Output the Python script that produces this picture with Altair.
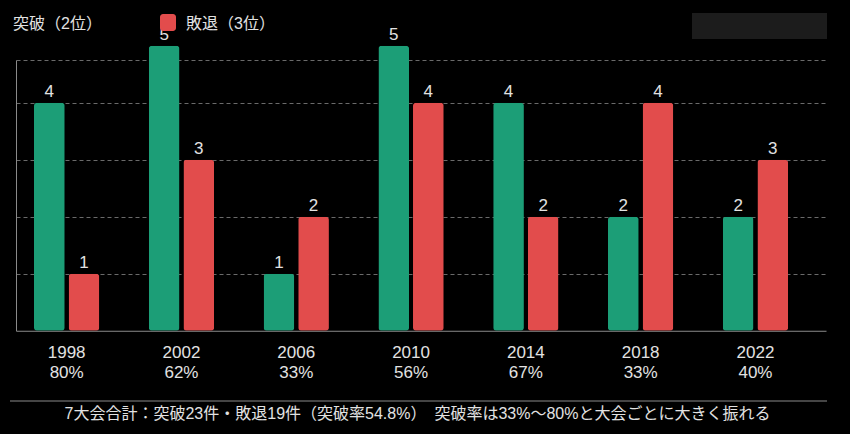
import altair as alt
import pandas as pd

# ---- data ----
years = ["1998", "2002", "2006", "2010", "2014", "2018", "2022"]
breakthrough = [4, 5, 1, 5, 4, 2, 2]
eliminated = [1, 3, 2, 4, 2, 4, 3]
rates = ["80%", "62%", "33%", "56%", "67%", "33%", "40%"]
series = ["突破（2位）", "敗退（3位）"]
colors = ["#1c9e77", "#e24c4c"]
footer = "7大会合計：突破23件・敗退19件（突破率54.8%）　突破率は33%〜80%と大会ごとに大きく振れる"

FONT = "Liberation Sans, Noto Sans CJK JP, sans-serif"
TXT = "#e2e2e2"

# page background black (the page margin around the chart)
try:
    import altair.utils.html as _h
    _orig = _h.TEMPLATES["standard"]

    class _BlackPage:
        def render(self, **kw):
            return _orig.render(**kw).replace(
                "<head>", "<head><style>html,body{background:#000000;}</style>", 1)

    _h.TEMPLATES["standard"] = _BlackPage()
except Exception:
    pass

rows = []
for y, b, e in zip(years, breakthrough, eliminated):
    rows.append({"year": y, "series": series[0], "value": b})
    rows.append({"year": y, "series": series[1], "value": e})
df = pd.DataFrame(rows)
lab = pd.DataFrame({"year": years, "rate": rates})

xscale = alt.Scale(domain=years, paddingInner=0.431, paddingOuter=0.2435, align=0.322)
yscale = alt.Scale(domain=[0, 4.75], nice=False, zero=True)

x = alt.X("year:N", scale=xscale,
          axis=alt.Axis(labels=False, ticks=False, title=None, domain=True,
                        domainColor="#8a8a8a", domainWidth=1, grid=False))
xo = alt.XOffset("series:N", scale=alt.Scale(domain=series, paddingInner=0.113, paddingOuter=0))
y = alt.Y("value:Q", scale=yscale,
          axis=alt.Axis(labels=False, ticks=False, title=None, domain=True,
                        domainColor="#8a8a8a", domainWidth=1,
                        values=[1, 2, 3, 4, 4.75], grid=True, gridColor="#6a6a6a",
                        gridDash=[4, 3], gridWidth=1))
color = alt.Color("series:N", scale=alt.Scale(domain=series, range=colors), legend=None)

base = alt.Chart(df)
bars = base.mark_bar(cornerRadius=3).encode(x=x, xOffset=xo, y=y, color=color)
vals = base.mark_text(baseline="alphabetic", dy=-6, fontSize=17, font=FONT, color=TXT).encode(
    x=alt.X("year:N", scale=xscale), xOffset=xo, y=alt.Y("value:Q", scale=yscale),
    text="value:Q")

year_txt = alt.Chart(lab).mark_text(baseline="middle", fontSize=17, font=FONT, color=TXT).encode(
    x=alt.X("year:N", scale=xscale), y=alt.value(293), text="year:N")
rate_txt = alt.Chart(lab).mark_text(baseline="middle", fontSize=17, font=FONT, color=TXT).encode(
    x=alt.X("year:N", scale=xscale), y=alt.value(312.5), text="rate:N")

one = pd.DataFrame({"a": [0]})
leg1 = alt.Chart(one).mark_text(align="left", baseline="middle", fontSize=16, font=FONT,
                                color=TXT, text=series[0]).encode(
    x=alt.value(-3), y=alt.value(-36))
leg_sq = alt.Chart(one).mark_rect(cornerRadius=3, color=colors[1]).encode(
    x=alt.value(144), x2=alt.value(160), y=alt.value(-46), y2=alt.value(-29))
leg2 = alt.Chart(one).mark_text(align="left", baseline="middle", fontSize=16, font=FONT,
                                color=TXT, text=series[1]).encode(
    x=alt.value(170), y=alt.value(-36))
box = alt.Chart(one).mark_rect(color="#1c1c1c").encode(
    x=alt.value(676), x2=alt.value(811), y=alt.value(-47), y2=alt.value(-21))
sep = alt.Chart(one).mark_rule(color="#8a8a8a", strokeWidth=1).encode(
    x=alt.value(-6), x2=alt.value(811), y=alt.value(341))
foot = alt.Chart(one).mark_text(align="center", baseline="middle", fontSize=16, font=FONT,
                                color=TXT, text=footer).encode(
    x=alt.value(401.5), y=alt.value(354))

chart = alt.layer(box, bars, vals, year_txt, rate_txt, leg1, leg_sq, leg2, sep, foot).properties(
    width=810, height=270.75,
    autosize=alt.AutoSizeParams(type="none"),
    padding={"left": 8, "top": 52, "right": 16, "bottom": 95},
    background="#000000",
).configure_view(stroke=None)

chart.save("out.html", embed_options={"renderer": "svg", "actions": False})
